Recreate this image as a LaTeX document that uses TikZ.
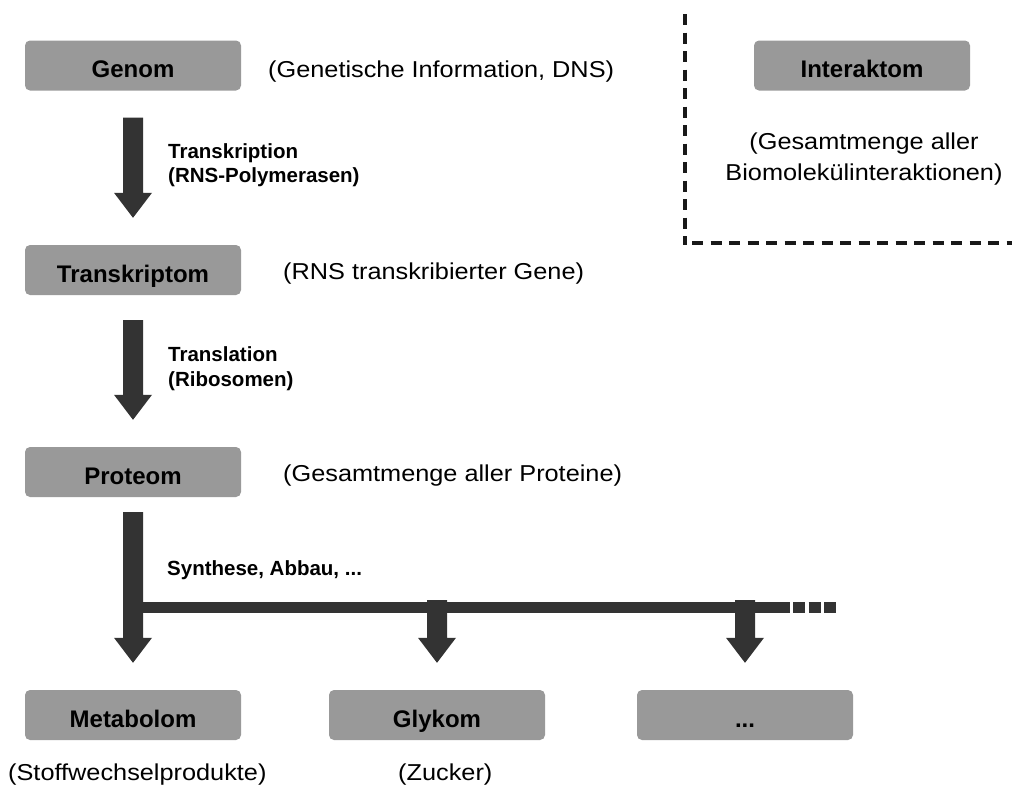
\documentclass[tikz,border=0pt]{standalone}
\usepackage{fontspec}
\setmainfont{Liberation Sans}
\usetikzlibrary{calc}
\definecolor{boxgray}{HTML}{999999}
\definecolor{arrowdark}{HTML}{333333}
\newcommand{\wtext}[1]{\scalebox{1.1}[1]{#1}}
\newcommand{\fatarrow}[2]{%
  \fill[arrowdark] ($(#1)+(-10,0)$) -- ($(#2)+(-10,-25)$) -- ($(#2)+(-19,-25)$) -- (#2)
    -- ($(#2)+(19,-25)$) -- ($(#2)+(10,-25)$) -- ($(#1)+(10,0)$) -- cycle;}
\begin{document}
\begin{tikzpicture}[x=1pt,y=-1pt,
  box/.style={rectangle, rounded corners=5pt, fill=boxgray, minimum width=216pt, minimum height=50pt,
    font=\bfseries\fontsize{24}{28}\selectfont, inner sep=0pt, text height=26pt, text depth=2pt},
  desc/.style={anchor=base west, inner sep=0pt, font=\fontsize{23}{30}\selectfont},
  lbl/.style={anchor=base west, inner sep=0pt, font=\bfseries\fontsize{20.5}{24}\selectfont},
  bar/.style={draw=arrowdark, line width=11pt},
  frame/.style={draw=black!90, line width=3.5pt, dash pattern=on 11pt off 7.5pt}]
\useasboundingbox (0,0) rectangle (1012,796);

% boxes
\node[box] (genom) at (133,65.5) {Genom};
\node[box] (transkriptom) at (133,270) {Transkriptom};
\node[box] (proteom) at (133,472) {Proteom};
\node[box] (metabolom) at (133,715) {Metabolom};
\node[box] (glykom) at (437,715) {Glykom};
\node[box] (dots) at (745,715) {...};
\node[box] (interaktom) at (862,65.5) {Interaktom};

% descriptions
\node[desc] (dgenom) at (268,77) {\wtext{(Genetische Information, DNS)}};
\node[desc] (dtrans) at (283,279) {\wtext{(RNS transkribierter Gene)}};
\node[desc] (dprot) at (283,481) {\wtext{(Gesamtmenge aller Proteine)}};
\node[desc, anchor=base] (dinter1) at (864,149) {\wtext{(Gesamtmenge aller}};
\node[desc, anchor=base] (dinter2) at (864,180) {\wtext{Biomolekülinteraktionen)}};
\node[desc] (dmeta) at (8,780) {\wtext{(Stoffwechselprodukte)}};
\node[desc] (dglyk) at (398,780) {\wtext{(Zucker)}};

% arrow labels
\node[lbl] (l1a) at (168,158) {Transkription};
\node[lbl] (l1b) at (168,182) {(RNS-Polymerasen)};
\node[lbl] (l2a) at (168,361) {Translation};
\node[lbl] (l2b) at (168,386) {(Ribosomen)};
\node[lbl] (l3) at (167,575) {Synthese, Abbau, ...};

% arrows
\coordinate (a1s) at ($(genom.south)+(0,27)$);
\coordinate (a1e) at ($(transkriptom.north)+(0,-27)$);
\fatarrow{a1s}{a1e}
\coordinate (a2s) at ($(transkriptom.south)+(0,25)$);
\coordinate (a2e) at ($(proteom.north)+(0,-27)$);
\fatarrow{a2s}{a2e}
\coordinate (a3s) at ($(proteom.south)+(0,15)$);
\coordinate (a3e) at ($(metabolom.north)+(0,-27)$);
\fatarrow{a3s}{a3e}

% distribution bar
\coordinate (barL) at (133,607.5);
\coordinate (barR) at (790,607.5);
\coordinate (dashS) at (793,607.5);
\coordinate (dashE) at (838,607.5);
\draw[bar] (barL) -- (barR);
\draw[bar, dash pattern=on 12pt off 3.5pt] (dashS) -- (dashE);

\coordinate (a4s) at ($(glykom.north |- barL)+(0,-7.5)$);
\coordinate (a4e) at ($(glykom.north)+(0,-27)$);
\fatarrow{a4s}{a4e}
\coordinate (a5s) at ($(dots.north |- barL)+(0,-7.5)$);
\coordinate (a5e) at ($(dots.north)+(0,-27)$);
\fatarrow{a5s}{a5e}

% dashed frame of Interaktom
\coordinate (fT) at (685,14);
\coordinate (fB) at (685,244.5);
\coordinate (fH) at (692,243);
\coordinate (fR) at (1012,243);
\draw[frame] (fT) -- (fB);
\draw[frame] (fH) -- (fR);
\end{tikzpicture}
\end{document}
